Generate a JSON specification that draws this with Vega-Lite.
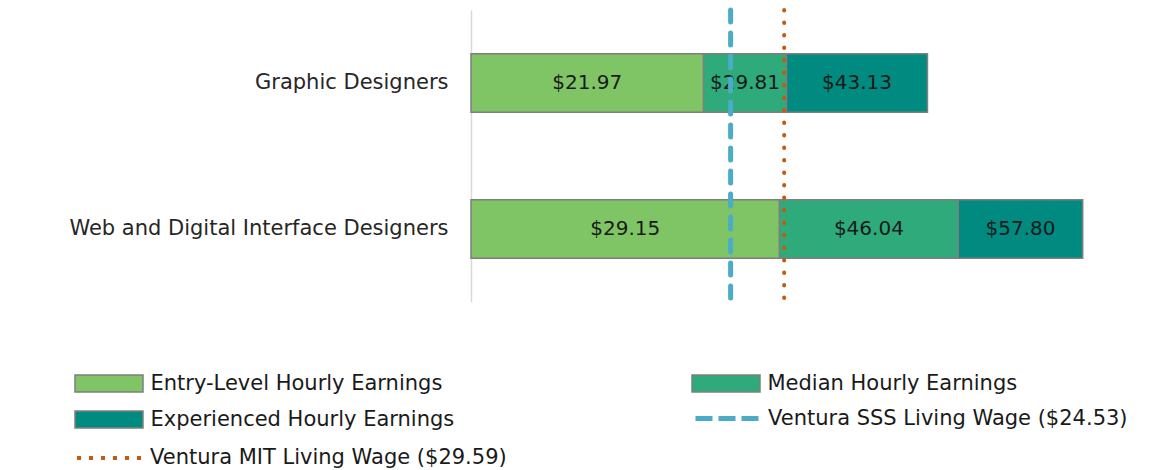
{
  "$schema": "https://vega.github.io/schema/vega-lite/v6.json",
  "width": 635,
  "height": 292,
  "autosize": {"type": "none"},
  "padding": {"left": 471, "top": 10, "right": 70, "bottom": 168},
  "background": "white",
  "config": {"view": {"stroke": null}, "font": "DejaVu Sans"},
  "datasets": {
    "earnings": [
      {"occupation": "Graphic Designers", "series": "Entry-Level Hourly Earnings", "from": 0, "to": 21.97},
      {"occupation": "Graphic Designers", "series": "Median Hourly Earnings", "from": 21.97, "to": 29.81},
      {"occupation": "Graphic Designers", "series": "Experienced Hourly Earnings", "from": 29.81, "to": 43.13},
      {"occupation": "Web and Digital Interface Designers", "series": "Entry-Level Hourly Earnings", "from": 0, "to": 29.15},
      {"occupation": "Web and Digital Interface Designers", "series": "Median Hourly Earnings", "from": 29.15, "to": 46.04},
      {"occupation": "Web and Digital Interface Designers", "series": "Experienced Hourly Earnings", "from": 46.04, "to": 57.8}
    ],
    "wages": [
      {"series": "Ventura SSS Living Wage ($24.53)", "wage": 24.53},
      {"series": "Ventura MIT Living Wage ($29.59)", "wage": 29.59}
    ]
  },
  "layer": [
    {
      "data": {"name": "earnings"},
      "mark": {"type": "bar", "stroke": "#7f7f7f", "strokeWidth": 1.5},
      "encoding": {
        "y": {
          "field": "occupation", "type": "nominal",
          "sort": ["Graphic Designers", "Web and Digital Interface Designers"],
          "scale": {"paddingInner": 0.6, "paddingOuter": 0.3},
          "axis": {
            "title": null, "ticks": false, "domainColor": "#d9d9d9", "domainWidth": 1.5,
            "labelFontSize": 21, "labelColor": "#262626", "labelPadding": 23, "labelLimit": 600,
            "labelFont": "DejaVu Sans"
          }
        },
        "x": {"field": "from", "type": "quantitative", "scale": {"domain": [0, 60], "nice": false}, "axis": null},
        "x2": {"field": "to"},
        "color": {
          "field": "series", "type": "nominal",
          "scale": {
            "domain": ["Entry-Level Hourly Earnings", "Median Hourly Earnings", "Experienced Hourly Earnings"],
            "range": ["#80c565", "#2eaa7b", "#008a80"]
          },
          "legend": {
            "title": null, "orient": "none", "legendX": -398, "legendY": 363,
            "direction": "horizontal", "columns": 2, "columnPadding": 234, "rowPadding": 13,
            "labelFontSize": 21, "labelColor": "#1a1a1a", "labelFont": "DejaVu Sans", "labelOffset": 56.5, "labelLimit": 600,
            "symbolSize": 289, "symbolType": "M-1,-1H7V1H-1Z",
            "symbolStrokeColor": "#7f7f7f", "symbolStrokeWidth": 1.5, "symbolOpacity": 1
          }
        }
      }
    },
    {
      "data": {"name": "earnings"},
      "transform": [{"calculate": "(datum.from + datum.to) / 2", "as": "mid"}],
      "mark": {"type": "text", "fontSize": 20, "color": "#1a1a1a", "font": "DejaVu Sans"},
      "encoding": {
        "y": {"field": "occupation", "type": "nominal", "sort": ["Graphic Designers", "Web and Digital Interface Designers"]},
        "x": {"field": "mid", "type": "quantitative"},
        "text": {"field": "to", "type": "quantitative", "format": "$.2f"}
      }
    },
    {
      "data": {"name": "wages"},
      "transform": [{"filter": "datum.wage == 24.53"}],
      "mark": {"type": "rule", "strokeWidth": 5, "strokeDash": [12, 11], "strokeCap": "round"},
      "encoding": {
        "x": {"field": "wage", "type": "quantitative"},
        "stroke": {
          "field": "series", "type": "nominal",
          "scale": {"domain": ["Ventura SSS Living Wage ($24.53)"], "range": ["#4bacc6"]},
          "legend": {
            "title": null, "orient": "none", "legendX": 222, "legendY": 372,
            "labelFontSize": 21, "labelColor": "#1a1a1a", "labelFont": "DejaVu Sans", "labelOffset": 2, "labelLimit": 600,
            "symbolSize": 4624, "symbolType": "M-1,0H1", "symbolStrokeWidth": 5, "symbolDash": [17, 6],
            "symbolFillColor": "transparent", "symbolOpacity": 1
          }
        }
      }
    },
    {
      "data": {"name": "wages"},
      "transform": [{"filter": "datum.wage == 29.59"}],
      "mark": {"type": "rule", "color": "#c55a11", "strokeWidth": 4, "strokeDash": [0.5, 12], "strokeCap": "round"},
      "encoding": {
        "x": {"field": "wage", "type": "quantitative"},
        "opacity": {
          "field": "series", "type": "nominal",
          "scale": {"type": "ordinal", "domain": ["Ventura MIT Living Wage ($29.59)"], "range": [1]},
          "legend": {
            "title": null, "orient": "none", "legendX": -396, "legendY": 412,
            "labelFontSize": 21, "labelColor": "#1a1a1a", "labelFont": "DejaVu Sans", "labelOffset": 3, "labelLimit": 600,
            "symbolSize": 4624, "symbolType": "M-1,0H1", "symbolStrokeWidth": 4, "symbolDash": [4, 8],
            "symbolStrokeColor": "#c55a11", "symbolFillColor": "transparent"
          }
        }
      }
    }
  ]
}
